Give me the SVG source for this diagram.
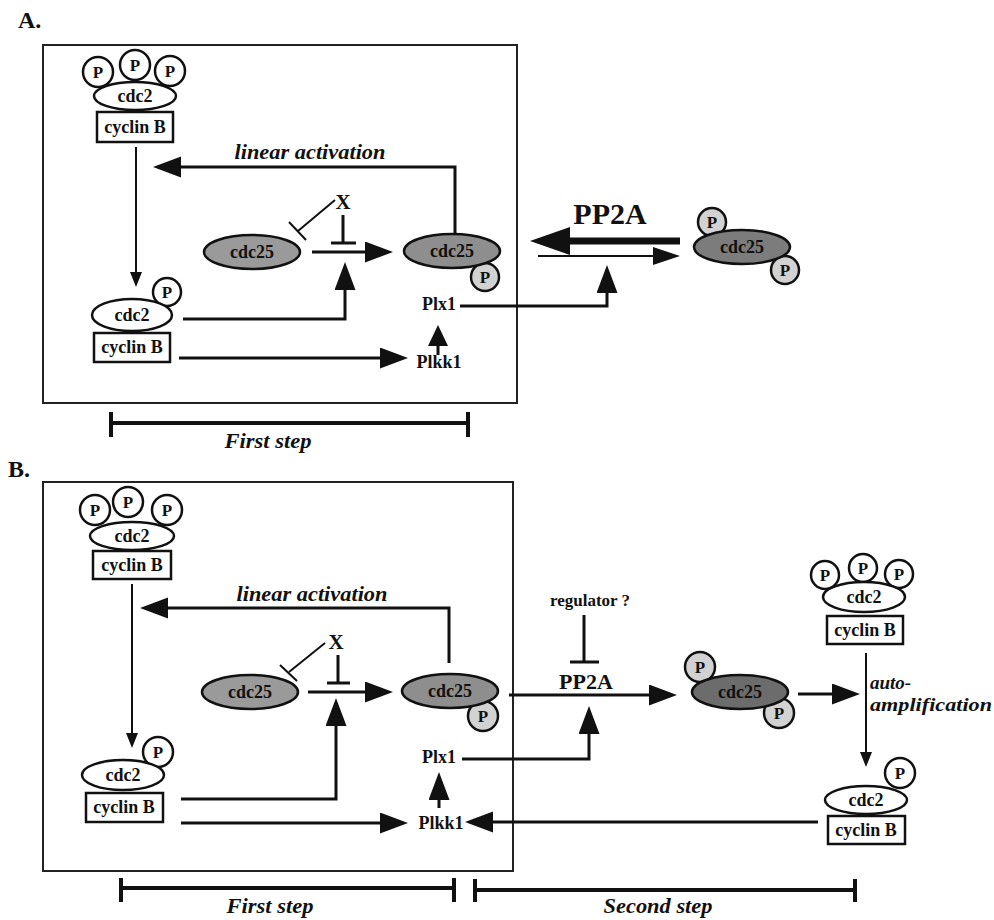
<svg xmlns="http://www.w3.org/2000/svg" width="994" height="920" viewBox="0 0 994 920">
<defs>
<style>
text{font-family:"Liberation Serif","Times New Roman",serif;font-weight:bold;fill:#111}
.t{font-size:18px;text-anchor:middle}
.p{font-size:17px;text-anchor:middle}
.it{font-style:italic;font-size:21px}
.aa{font-size:19px}
.lab{font-size:24px}
.box{fill:none;stroke:#222;stroke-width:2}
.w{fill:#fff;stroke:#111;stroke-width:2.5}
.g1{fill:#9a9a9a;stroke:#111;stroke-width:2.5}
.g2{fill:#8e8e8e;stroke:#111;stroke-width:2.5}
.g3{fill:#7c7c7c;stroke:#111;stroke-width:2.5}
.g4{fill:#6c6c6c;stroke:#111;stroke-width:2.5}
.pl{fill:#d2d2d2;stroke:#111;stroke-width:2.5}
.ln{fill:none;stroke:#111;stroke-width:3}
.th{fill:none;stroke:#111;stroke-width:2}
.bar{fill:none;stroke:#111;stroke-width:4}
</style>
<marker id="big" markerUnits="userSpaceOnUse" markerWidth="28" markerHeight="22" refX="23" refY="10.5" orient="auto"><path d="M0,0 L28,10.5 L0,21 z" fill="#111"/></marker>
<marker id="mid" markerUnits="userSpaceOnUse" markerWidth="21" markerHeight="20" refX="16" refY="10" orient="auto"><path d="M0,0 L21,10 L0,20 z" fill="#111"/></marker>
<marker id="small" markerUnits="userSpaceOnUse" markerWidth="15" markerHeight="12" refX="12" refY="6" orient="auto"><path d="M0,0 L15,6 L0,12 z" fill="#111"/></marker>
<marker id="thick" markerUnits="userSpaceOnUse" markerWidth="40" markerHeight="28" refX="10" refY="14" orient="auto"><path d="M0,0 L40,14 L0,28 z" fill="#111"/></marker>
<marker id="thin" markerUnits="userSpaceOnUse" markerWidth="27" markerHeight="18" refX="23" refY="9" orient="auto"><path d="M0,0 L27,9 L0,18 z" fill="#111"/></marker>
</defs>
<rect width="994" height="920" fill="#fff"/>

<!-- Panel labels and frames -->
<text class="lab" x="18" y="28">A.</text>
<text class="lab" x="8" y="477">B.</text>
<rect class="box" x="43" y="45" width="474" height="358"/>
<rect class="box" x="43" y="482" width="470" height="389"/>

<!-- ===== Panel A nodes ===== -->
<g id="A_cdc2_3P">
<circle class="w" cx="98" cy="72" r="15"/><circle class="w" cx="135" cy="65" r="15"/><circle class="w" cx="170" cy="71" r="15"/>
<text class="p" x="98" y="78">P</text><text class="p" x="135" y="71">P</text><text class="p" x="170" y="77">P</text>
<ellipse class="w" cx="135" cy="96" rx="41" ry="14"/>
<text class="t" x="135" y="102">cdc2</text>
<rect class="w" x="97" y="112" width="76" height="30"/>
<text class="t" x="135" y="133">cyclin B</text>
</g>
<g id="A_cdc2_1P">
<circle class="w" cx="167" cy="292" r="14"/><text class="p" x="167" y="298">P</text>
<ellipse class="w" cx="132" cy="315" rx="40" ry="16"/>
<text class="t" x="132" y="321">cdc2</text>
<rect class="w" x="94" y="333" width="76" height="29"/>
<text class="t" x="132" y="353">cyclin B</text>
</g>
<g id="A_cdc25">
<ellipse class="g1" cx="252" cy="252" rx="48" ry="17"/>
<text class="t" x="252" y="258">cdc25</text>
</g>
<g id="A_X"><text class="t" x="343" y="209" style="font-size:21px">X</text></g>
<g id="A_cdc25P">
<circle class="pl" cx="485" cy="277" r="14"/><text class="p" x="485" y="283">P</text>
<ellipse class="g2" cx="452" cy="251" rx="48" ry="17"/>
<text class="t" x="452" y="257">cdc25</text>
</g>
<g id="A_Plx1"><text class="t" x="439" y="310">Plx1</text></g>
<g id="A_Plkk1"><text class="t" x="439" y="368">Plkk1</text></g>
<g id="A_PP2A"><text class="t" x="610" y="224" style="font-size:30px">PP2A</text></g>
<g id="A_cdc25PP">
<circle class="pl" cx="712" cy="222" r="14"/><text class="p" x="712" y="228">P</text>
<circle class="pl" cx="785" cy="270" r="14"/><text class="p" x="785" y="276">P</text>
<ellipse class="g3" cx="742" cy="247" rx="48" ry="17"/>
<text class="t" x="742" y="253">cdc25</text>
</g>
<g id="A_labels">
<text class="it" x="310" y="159" text-anchor="middle" textLength="151" lengthAdjust="spacingAndGlyphs">linear activation</text>
<text class="it" x="268" y="448" text-anchor="middle" textLength="87" lengthAdjust="spacingAndGlyphs">First step</text>
</g>

<!-- ===== Panel B nodes ===== -->
<g id="B_cdc2_3P">
<circle class="w" cx="95" cy="510" r="15"/><circle class="w" cx="128" cy="502" r="15"/><circle class="w" cx="167" cy="510" r="15"/>
<text class="p" x="95" y="516">P</text><text class="p" x="128" y="508">P</text><text class="p" x="167" y="516">P</text>
<ellipse class="w" cx="132" cy="536" rx="42" ry="14"/>
<text class="t" x="132" y="542">cdc2</text>
<rect class="w" x="93" y="551" width="78" height="28"/>
<text class="t" x="132" y="571">cyclin B</text>
</g>
<g id="B_cdc2_1P">
<circle class="w" cx="158" cy="752" r="15"/><text class="p" x="158" y="758">P</text>
<ellipse class="w" cx="123" cy="775" rx="41" ry="15"/>
<text class="t" x="123" y="781">cdc2</text>
<rect class="w" x="86" y="793" width="77" height="29"/>
<text class="t" x="124" y="813">cyclin B</text>
</g>
<g id="B_cdc25">
<ellipse class="g1" cx="250" cy="692" rx="48" ry="17"/>
<text class="t" x="250" y="698">cdc25</text>
</g>
<g id="B_X"><text class="t" x="336" y="649" style="font-size:21px">X</text></g>
<g id="B_cdc25P">
<circle class="pl" cx="483" cy="716" r="15"/><text class="p" x="483" y="722">P</text>
<ellipse class="g2" cx="450" cy="691" rx="48" ry="17"/>
<text class="t" x="450" y="697">cdc25</text>
</g>
<g id="B_Plx1"><text class="t" x="439" y="763">Plx1</text></g>
<g id="B_Plkk1"><text class="t" x="441" y="829">Plkk1</text></g>
<g id="B_regulator"><text class="t" x="590" y="606" style="font-size:17px">regulator ?</text></g>
<g id="B_PP2A"><text class="t" x="586" y="689" style="font-size:22px">PP2A</text></g>
<g id="B_cdc25PP">
<circle class="pl" cx="700" cy="667" r="15"/><text class="p" x="700" y="673">P</text>
<circle class="pl" cx="779" cy="713" r="15"/><text class="p" x="779" y="719">P</text>
<ellipse class="g4" cx="740" cy="692" rx="48" ry="17"/>
<text class="t" x="740" y="698">cdc25</text>
</g>
<g id="B_cdc2_3P_right">
<circle class="w" cx="825" cy="575" r="14"/><circle class="w" cx="863" cy="568" r="14"/><circle class="w" cx="899" cy="574" r="14"/>
<text class="p" x="825" y="581">P</text><text class="p" x="863" y="574">P</text><text class="p" x="899" y="580">P</text>
<ellipse class="w" cx="864" cy="597" rx="41" ry="15"/>
<text class="t" x="864" y="603">cdc2</text>
<rect class="w" x="827" y="616" width="76" height="28"/>
<text class="t" x="865" y="636">cyclin B</text>
</g>
<g id="B_cdc2_1P_right">
<circle class="w" cx="900" cy="773" r="15"/><text class="p" x="900" y="779">P</text>
<ellipse class="w" cx="866" cy="800" rx="41" ry="14"/>
<text class="t" x="866" y="806">cdc2</text>
<rect class="w" x="828" y="816" width="77" height="28"/>
<text class="t" x="866" y="836">cyclin B</text>
</g>
<g id="B_labels">
<text class="it" x="312" y="601" text-anchor="middle" textLength="151" lengthAdjust="spacingAndGlyphs">linear activation</text>
<text class="it aa" x="870" y="689">auto-</text>
<text class="it aa" x="870" y="711" textLength="122" lengthAdjust="spacingAndGlyphs">amplification</text>
<text class="it" x="270" y="913" text-anchor="middle" textLength="87" lengthAdjust="spacingAndGlyphs">First step</text>
<text class="it" x="658" y="913" text-anchor="middle" textLength="109" lengthAdjust="spacingAndGlyphs">Second step</text>
</g>

<!-- ===== Connectors ===== -->
<g id="connectors">
<!-- Panel A -->
<path class="th" d="M136,147 V284" marker-end="url(#small)"/>
<path class="ln" d="M455,234 V167 H158" marker-end="url(#big)"/>
<path class="th" d="M335,200 L298,231"/>
<path class="th" d="M289,222 L306,240"/>
<path class="ln" d="M343,215 V243 M331,243 H356"/>
<path class="ln" d="M312,252 H388" marker-end="url(#big)"/>
<path class="ln" d="M183,319 H345 V267" marker-end="url(#big)"/>
<path class="ln" d="M179,358 H403" marker-end="url(#big)"/>
<path class="ln" d="M438,355 V330" marker-end="url(#mid)"/>
<path class="ln" d="M460,306 H607 V270" marker-end="url(#big)"/>
<path fill="none" stroke="#111" stroke-width="7" d="M680,241 H560" marker-end="url(#thick)"/>
<path class="th" d="M538,256 H676" marker-end="url(#thin)"/>
<path class="bar" d="M111,423 H468 M111,412 V437 M468,412 V437"/>
<!-- Panel B -->
<path class="th" d="M132,584 V745" marker-end="url(#small)"/>
<path class="ln" d="M449,663 V608 H145" marker-end="url(#big)"/>
<path class="th" d="M325,643 L289,672"/>
<path class="th" d="M280,665 L297,681"/>
<path class="ln" d="M338,655 V683 M327,683 H350"/>
<path class="ln" d="M308,692 H388" marker-end="url(#big)"/>
<path class="ln" d="M181,799 H336 V703" marker-end="url(#big)"/>
<path class="ln" d="M181,823 H403" marker-end="url(#big)"/>
<path class="ln" d="M818,822 H470" marker-end="url(#big)"/>
<path class="ln" d="M439,808 V777" marker-end="url(#big)"/>
<path class="ln" d="M462,759 H589 V711" marker-end="url(#big)"/>
<path class="ln" d="M509,695 H672" marker-end="url(#big)"/>
<path class="ln" d="M584,615 V662 M570,662 H599"/>
<path class="ln" d="M798,694 H855" marker-end="url(#big)"/>
<path class="th" d="M866,653 V764" stroke-width="2.5" marker-end="url(#small)"/>
<path class="bar" d="M121,888 H454 M121,878 V902 M454,878 V902"/>
<path class="bar" d="M475,890 H855 M475,879 V902 M855,879 V902"/>
</g>
</svg>
